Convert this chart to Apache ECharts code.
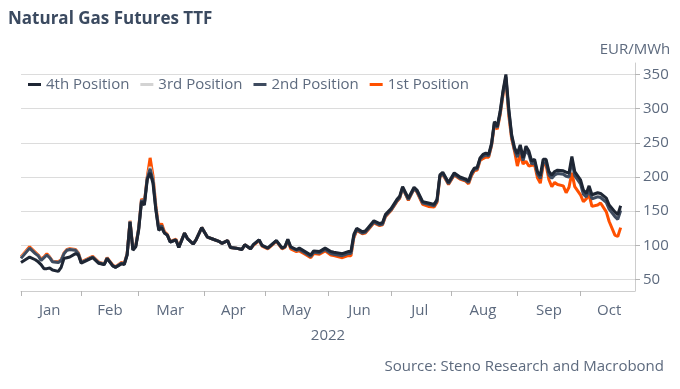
<!DOCTYPE html>
<html>
<head>
<meta charset="utf-8">
<script src="https://cdn.jsdelivr.net/npm/echarts@6/dist/echarts.min.js"></script>
<style>html,body{margin:0;padding:0;background:#fff;}#c{width:680px;height:389px;}</style>
</head>
<body>
<div id="c"></div>
<script>
// Axis range: business days of 2022 shown on the chart
const firstDay = '2022-01-03';
const lastDay = '2022-10-28';
const monthNames = ['Jan','Feb','Mar','Apr','May','Jun','Jul','Aug','Sep','Oct','Nov','Dec'];
const yTicks = [50, 100, 150, 200, 250, 300, 350];
const seriesNames = ['4th Position', '3rd Position', '2nd Position', '1st Position'];

// Sample dates (MM-DD, 2022)
const sampleDates = [
 '01-03','01-06','01-10','01-11','01-12','01-13','01-14','01-17','01-18','01-20','01-21','01-24','01-25','01-26','01-28','01-31',
 '02-01','02-03','02-07','02-09','02-11','02-14','02-16','02-17','02-21','02-22','02-23','02-24','02-25','02-28',
 '03-01','03-02','03-03','03-04','03-07','03-08','03-09','03-10','03-11','03-14','03-15','03-16','03-18','03-21','03-23','03-24','03-28','03-29','03-31',
 '04-04','04-06','04-08','04-11','04-13','04-14','04-18','04-20','04-21','04-25','04-26','04-28','04-29',
 '05-03','05-06','05-10','05-11','05-12','05-13','05-17','05-18','05-20','05-24','05-25','05-27','05-31',
 '06-02','06-03','06-08','06-10','06-13','06-14','06-15','06-17','06-20','06-21','06-23','06-27','06-28','06-29',
 '07-01','07-05','07-06','07-07','07-11','07-13','07-14','07-18','07-20','07-22','07-25','07-26','07-27','07-29',
 '08-02','08-04','08-08','08-09','08-10','08-11','08-12','08-15','08-16','08-17','08-18','08-19','08-22','08-23','08-24','08-25','08-26','08-29','08-30','08-31',
 '09-01','09-02','09-05','09-06','09-07','09-08','09-09','09-12','09-13','09-14','09-15','09-16','09-19','09-20','09-21','09-23','09-26','09-27','09-28','09-29',
 '10-03','10-04','10-05','10-06','10-07','10-11','10-12','10-14','10-17','10-19','10-20','10-21'
];

// EUR/MWh values per position
const pos4 = [
 75,83,79,76,72,66,66,67,64,62,68,81,82,83,88,86,
 74,78,82,74,72,81,70,68,73,72,86,134,93,98,
 122,164,159,196,206,191,152,122,126,118,115,105,108,97,118,110,102,108,126,
 112,109,106,103,107,97,96,94,101,95,101,108,100,
 96,107,96,98,109,98,94,96,91,86,92,91,96,
 91,90,88,91,91,116,125,120,121,126,136,132,133,145,
 154,167,172,186,169,185,181,164,162,160,167,203,207,192,
 206,200,197,194,206,213,214,228,233,235,233,249,281,274,296,326,350,300,262,243,
 234,247,228,245,238,223,226,208,202,226,226,208,203,208,210,209,207,206,230,208,
 196,181,176,187,174,177,176,169,159,149,145,158
];
const pos3 = [
 82,96,88,85,78,82,86,82,76,75,78,88,93,94,93,88,
 75,79,83,75,73,81,70,68,74,73,87,135,94,99,
 124,166,161,198,215,196,154,124,128,118,115,105,108,97,118,110,102,108,126,
 112,109,106,103,107,97,96,94,101,95,101,108,100,
 96,107,96,98,109,98,93,95,90,85,91,90,95,
 89,88,86,89,89,114,124,119,120,125,135,131,132,144,
 153,166,171,185,168,184,180,163,161,159,166,202,206,191,
 205,199,196,193,205,212,213,227,232,234,232,248,280,273,295,325,348,298,261,242,
 232,245,226,243,236,221,224,206,200,224,224,206,201,206,208,207,204,203,227,205,
 193,178,173,184,171,174,173,166,156,146,141,154
];
const pos2 = [
 81,96,88,85,78,82,86,82,76,75,78,88,93,94,93,88,
 75,79,83,75,72,81,70,68,74,73,87,135,94,99,
 124,166,161,198,212,195,154,124,129,118,115,105,108,97,118,110,102,108,126,
 112,109,106,103,107,97,96,94,101,95,101,108,100,
 96,107,96,98,108,97,93,94,89,84,90,89,94,
 88,87,85,88,88,113,123,118,119,124,134,130,131,143,
 152,165,170,184,167,183,179,162,160,158,165,201,205,190,
 204,198,195,192,204,211,212,226,230,232,231,247,279,272,293,323,346,296,259,240,
 229,242,224,240,233,219,222,204,198,221,221,203,198,203,205,204,201,200,224,202,
 190,175,171,181,168,171,170,163,153,142,138,151
];
const pos1 = [
 83,98,90,86,80,83,88,83,77,76,79,89,94,95,94,89,
 76,80,84,76,73,82,71,69,75,74,88,136,95,100,
 125,168,163,200,228,202,158,126,132,120,116,106,109,98,118,110,102,108,126,
 112,109,106,103,107,97,96,94,101,95,100,107,99,
 95,106,95,97,107,95,91,92,87,82,88,87,92,
 86,85,82,85,85,111,122,117,118,123,133,129,130,142,
 151,164,169,184,166,183,178,160,157,156,163,200,204,189,
 203,197,194,190,202,209,210,224,227,229,229,246,276,270,291,320,343,290,256,238,
 216,233,219,223,216,217,218,199,191,218,218,196,186,192,189,187,177,185,206,186,
 174,164,168,174,157,159,162,149,135,115,113,126
];

// --- build business-day categories ---
function businessDays(a, b) {
  const out = [];
  let d = new Date(a + 'T00:00:00Z');
  const e = new Date(b + 'T00:00:00Z');
  while (d <= e) {
    const w = d.getUTCDay();
    if (w !== 0 && w !== 6) out.push(d.toISOString().slice(5, 10));
    d = new Date(d.getTime() + 86400000);
  }
  return out;
}
const categories = businessDays(firstDay, lastDay);
const monthStarts = [];
categories.forEach((c, i) => {
  if (i === 0 || c.slice(0, 2) !== categories[i - 1].slice(0, 2)) monthStarts.push(i);
});
const tickSet = new Set(monthStarts);
const labelSet = new Set();
monthStarts.forEach((s, k) => {
  const next = k + 1 < monthStarts.length ? monthStarts[k + 1] : categories.length;
  labelSet.add(Math.floor((s + next) / 2));
});

function pairs(vals) {
  return sampleDates.map((d, i) => [categories.indexOf(d), vals[i]]);
}

const textColor = '#5d6a7e';
const font = 'Open Sans';
const colors = ['#1e2634', '#d3d3d3', '#3e4b5f', '#ff5000'];
const valueSets = [pos4, pos3, pos2, pos1];
const zs = [5, 3, 4, 2];

const chart = echarts.init(document.getElementById('c'), null, {renderer: 'canvas'});
chart.setOption({
  animation: false,
  backgroundColor: '#ffffff',
  textStyle: {fontFamily: font},
  title: [
    {text: 'Natural Gas Futures TTF', left: 3, top: 6,
     textStyle: {fontFamily: font, fontSize: 17, fontWeight: 'bold', color: '#3b4a60'}},
    {text: 'Source: Steno Research and Macrobond', right: 11, bottom: 10,
     textStyle: {fontFamily: font, fontSize: 15, fontWeight: 'normal', color: textColor}}
  ],
  legend: {
    data: seriesNames,
    left: 23, top: 72,
    icon: 'rect', itemWidth: 13, itemHeight: 3, itemGap: 11,
    textStyle: {fontFamily: font, fontSize: 15, color: textColor}
  },
  grid: {left: 21, right: 45, top: 63, bottom: 98, containLabel: false},
  xAxis: {
    type: 'category',
    data: categories,
    boundaryGap: false,
    name: '2022',
    nameLocation: 'middle',
    nameGap: 37,
    nameTextStyle: {fontFamily: font, fontSize: 15, color: textColor},
    axisLine: {lineStyle: {color: '#cdcdcd', width: 1}},
    axisTick: {show: true, interval: (i) => tickSet.has(i), length: 5, lineStyle: {color: '#b5b5b5'}},
    axisLabel: {
      interval: (i) => labelSet.has(i),
      formatter: (v) => monthNames[parseInt(v.slice(0, 2), 10) - 1],
      fontFamily: font, fontSize: 15, color: textColor, margin: 12
    },
    splitLine: {show: false}
  },
  yAxis: {
    type: 'value',
    position: 'right',
    min: 100 / 3,
    max: 1100 / 3,
    name: 'EUR/MWh',
    nameLocation: 'end',
    nameGap: 6,
    nameTextStyle: {fontFamily: font, fontSize: 15, color: textColor},
    axisLine: {show: true, lineStyle: {color: '#cdcdcd'}},
    axisTick: {show: true, length: 5, customValues: yTicks, lineStyle: {color: '#b5b5b5'}},
    axisLabel: {customValues: yTicks,
      fontFamily: font, fontSize: 15, color: textColor, margin: 8},
    splitLine: {show: true, lineStyle: {color: '#dcdcdc', width: 1}}
  },
  series: seriesNames.map((n, k) => ({
    name: n,
    type: 'line',
    data: pairs(valueSets[k]),
    showSymbol: false,
    symbol: 'none',
    z: zs[k],
    itemStyle: {color: colors[k]},
    lineStyle: {color: colors[k], width: 3},
    emphasis: {disabled: true}
  }))
});
</script>
</body>
</html>
